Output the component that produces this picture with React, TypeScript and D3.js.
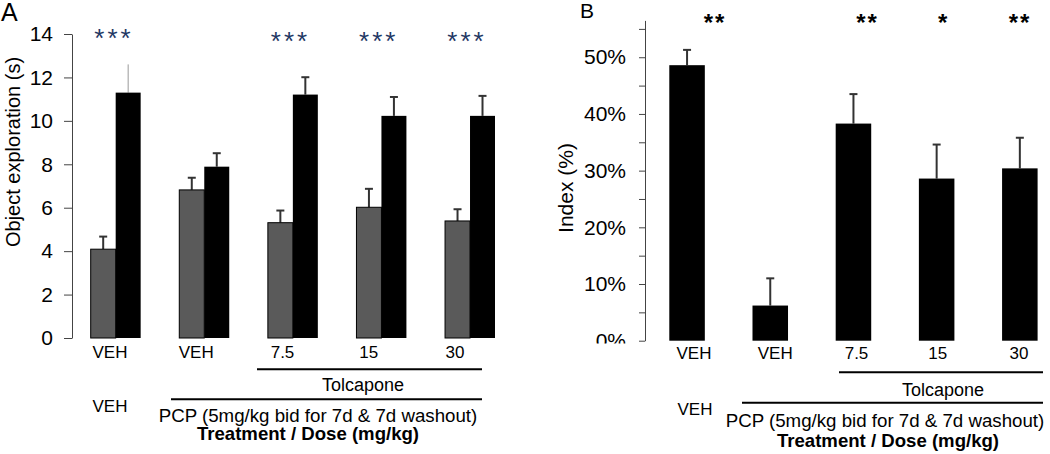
import React, { useEffect, useRef } from "react";
import * as d3 from "d3";

const FONT = "'Liberation Sans', Arial, sans-serif";

// panel A: object exploration time (s), familiar (grey) vs novel (black)
const doseLabels = ["VEH", "VEH", "7.5", "15", "30"];
const familiarMeans = [4.09, 6.82, 5.31, 6.02, 5.39];
const familiarErr = [0.58, 0.56, 0.56, 0.85, 0.54];
const novelMeans = [11.3, 7.89, 11.21, 10.23, 10.23];
const novelErr = [1.3, 0.62, 0.8, 0.87, 0.92];
const sigA = ["***", "", "***", "***", "***"];
const ticksA = [0, 2, 4, 6, 8, 10, 12, 14];

// panel B: discrimination index (%)
const indexMeans = [48.6, 6.2, 38.3, 28.6, 30.4];
const indexErr = [2.7, 4.8, 5.2, 6.0, 5.4];
const sigB = ["**", "", "**", "*", "**"];
const ticksB = [0, 5, 10, 15, 20, 25, 30, 35, 40, 45, 50, 55];

const W = 1050;
const H = 454;

export default function App() {
  const axisARef = useRef<SVGGElement>(null);
  const axisBRef = useRef<SVGGElement>(null);

  const idx = d3.range(doseLabels.length);

  // A scales
  const yA = d3.scaleLinear().domain([0, 14]).range([338, 34]);
  const xA = d3.scaleBand<number>().domain(idx).range([90.7, 495]).paddingInner(0.436);
  const sub = d3.scaleBand<string>().domain(["fam", "novel"]).range([0, xA.bandwidth()]);
  const labA = d3.scalePoint<number>().domain(idx).range([110, 455]);
  const starA = d3.scalePoint<number>().domain(idx).range([114, 467]);

  // B scales
  const yB = d3.scaleLinear().domain([0, 56.5]).range([340.7, 20.4]);
  const xB = d3.scaleBand<number>().domain(idx).range([669.3, 1037.6]).paddingInner(0.573);
  const labB = d3.scalePoint<number>().domain(idx).range([694, 1019]);
  const starB = d3.scalePoint<number>().domain(idx).range([715, 1020]);

  useEffect(() => {
    const gA = d3.select(axisARef.current);
    gA.selectAll("*").remove();
    gA.call(
      d3.axisLeft(yA).tickValues(ticksA).tickSize(8).tickSizeOuter(0).tickPadding(11)
    );
    gA.attr("font-size", 21).attr("font-family", FONT);
    gA.selectAll("line,path").attr("stroke", "#444");
    gA.selectAll("text").attr("fill", "#000");

    const gB = d3.select(axisBRef.current);
    gB.selectAll("*").remove();
    gB.call(
      d3
        .axisLeft(yB)
        .tickValues(ticksB)
        .tickSize(6)
        .tickSizeOuter(0)
        .tickPadding(13)
        .tickFormat((d) => ((d as number) % 10 === 0 ? `${d}%` : ""))
    );
    gB.attr("font-size", 21).attr("font-family", FONT);
    gB.selectAll("line,path").attr("stroke", "#444");
    gB.selectAll("text").attr("fill", "#000");
  }, []);

  const errBar = (x: number, y0: number, y1: number, key: string, faint = false) => (
    <g key={key} stroke={faint ? "#999" : "#333"} strokeWidth={faint ? 1 : 2}>
      <line x1={x} x2={x} y1={y0} y2={y1} />
      {!faint && <line x1={x - 4} x2={x + 4} y1={y1} y2={y1} />}
    </g>
  );

  return (
    <svg
      width={W}
      height={H}
      style={{ position: "absolute", left: 0, top: 0, background: "#fff" }}
      fontFamily={FONT}
    >
      <defs>
        <clipPath id="clipB" clipPathUnits="userSpaceOnUse">
          <rect x={-120} y={0} width={140} height={343.5} />
        </clipPath>
      </defs>

      {/* ---------- panel A ---------- */}
      <text x={1} y={21} fontSize={25}>A</text>
      <text
        transform={`translate(20,152) rotate(-90)`}
        textAnchor="middle"
        fontSize={20}
      >
        Object exploration (s)
      </text>
      <g ref={axisARef} transform="translate(72,0)" />

      {idx.map((i) => {
        const x0 = xA(i)!;
        const xf = x0 + sub("fam")!;
        const xn = x0 + sub("novel")!;
        const bw = sub.bandwidth();
        return (
          <g key={`a${i}`}>
            {errBar(xf + bw / 2, yA(familiarMeans[i]), yA(familiarMeans[i] + familiarErr[i]), "ef")}
            {/* first novel error bar is a thin line without cap in the original */}
            {errBar(xn + bw / 2, yA(novelMeans[i]), yA(novelMeans[i] + novelErr[i]), "en", i === 0)}
            <rect
              x={xf}
              y={yA(familiarMeans[i])}
              width={bw}
              height={yA(0) - yA(familiarMeans[i])}
              fill="#5a5a5a"
              stroke="#000"
              strokeWidth={1}
            />
            <rect
              x={xn}
              y={yA(novelMeans[i])}
              width={bw}
              height={yA(0) - yA(novelMeans[i])}
              fill="#000"
            />
            <text
              x={starA(i)}
              y={i === 0 ? 47 : 50}
              textAnchor="middle"
              fontSize={26}
              letterSpacing={3}
              fill="#1f3864"
            >
              {sigA[i]}
            </text>
            <text x={labA(i)} y={358} textAnchor="middle" fontSize={17}>
              {doseLabels[i]}
            </text>
          </g>
        );
      })}

      <line x1={257} x2={482} y1={369.3} y2={369.3} stroke="#000" strokeWidth={2} />
      <text x={363} y={391} textAnchor="middle" fontSize={18}>Tolcapone</text>
      <line x1={171} x2={482} y1={399.3} y2={399.3} stroke="#000" strokeWidth={2} />
      <text x={110} y={411.5} textAnchor="middle" fontSize={17}>VEH</text>
      <text x={318} y={421.5} textAnchor="middle" fontSize={18.7}>
        PCP (5mg/kg  bid for 7d &amp; 7d washout)
      </text>
      <text x={308} y={440} textAnchor="middle" fontSize={18.6} fontWeight="bold">
        Treatment / Dose (mg/kg)
      </text>

      {/* ---------- panel B ---------- */}
      <text x={580} y={18} fontSize={21}>B</text>
      <text
        transform={`translate(573,188) rotate(-90)`}
        textAnchor="middle"
        fontSize={21}
      >
        Index (%)
      </text>
      <g ref={axisBRef} transform="translate(645,0)" clipPath="url(#clipB)" />

      {idx.map((i) => {
        const x0 = xB(i)!;
        const bw = xB.bandwidth();
        return (
          <g key={`b${i}`}>
            {errBar(x0 + bw / 2, yB(indexMeans[i]), yB(indexMeans[i] + indexErr[i]), "eb")}
            <rect
              x={x0}
              y={yB(indexMeans[i])}
              width={bw}
              height={yB(0) - yB(indexMeans[i])}
              fill="#000"
            />
            <text
              x={starB(i)}
              y={31}
              textAnchor="middle"
              fontSize={24}
              fontWeight="bold"
              letterSpacing={2}
              fill="#000"
            >
              {sigB[i]}
            </text>
            <text x={labB(i)} y={359} textAnchor="middle" fontSize={17}>
              {doseLabels[i]}
            </text>
          </g>
        );
      })}

      <line x1={839} x2={1043} y1={372.3} y2={372.3} stroke="#000" strokeWidth={2} />
      <text x={943} y={396} textAnchor="middle" fontSize={18}>Tolcapone</text>
      <line x1={742} x2={1043} y1={402.7} y2={402.7} stroke="#000" strokeWidth={2} />
      <text x={695} y={415} textAnchor="middle" fontSize={17}>VEH</text>
      <text x={885} y={426.5} textAnchor="middle" fontSize={18.7}>
        PCP (5mg/kg  bid for 7d &amp; 7d washout)
      </text>
      <text x={888} y={446.5} textAnchor="middle" fontSize={18.6} fontWeight="bold">
        Treatment / Dose (mg/kg)
      </text>
    </svg>
  );
}
